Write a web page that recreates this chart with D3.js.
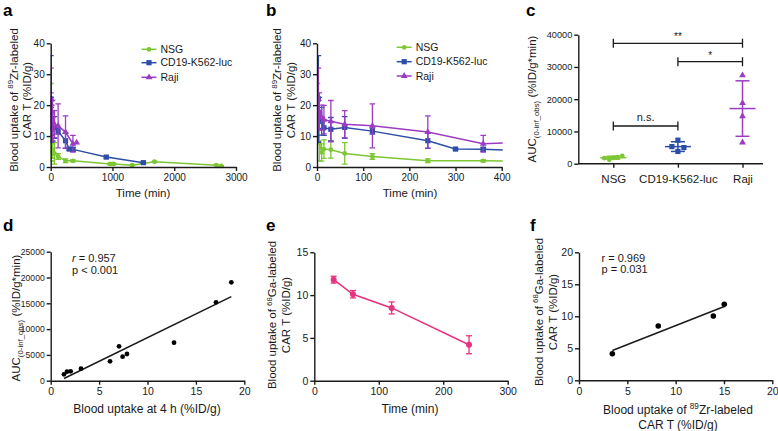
<!DOCTYPE html>
<html><head><meta charset="utf-8">
<script src="https://cdn.jsdelivr.net/npm/d3@7"></script>
<style>
body{margin:0;background:#fff}
</style></head><body>
<svg id="chart" width="778" height="431" style="display:block"></svg>
<script>
// ---------------- DATA ----------------
// Panels a & b: blood uptake of 89Zr-labeled CAR T (%ID/g) vs time (min)
const nsgTime  = [1, 3, 5, 10, 15, 30, 60, 120, 240, 360, 960, 1020, 1320, 1680, 2680, 2760];
const nsgMean  = [21, 14.5, 8, 4.7, 5.8, 5.6, 4.4, 3.4, 2.0, 2.0, 1.0, 1.0, 0.6, 1.7, 0.6, 0.35];
const nsgSD    = [6, 7, 6, 2.8, 3, 2.75, 3.5, 0.9, 0.6, 0.3, 0.2, 0.2, 0.1, 0.2, 0.1, 0.1];
const cd19Time = [3, 5, 10, 15, 30, 60, 120, 240, 300, 360, 900, 1500];
const cd19Mean = [22, 17.5, 14.8, 12.7, 12.2, 12.8, 11.6, 8.5, 5.8, 5.7, 3.2, 1.4];
const cd19SD   = [14, 5, 4.5, 2.5, 3.8, 3.5, 1.0, 2.5, 0.3, 0.6, 0.3, 0.2];
const rajiTime = [3, 5, 10, 15, 30, 60, 120, 240, 360, 420];
const rajiMean = [22, 18, 16, 15.3, 14.8, 13.8, 13.3, 11.3, 7.5, 7.9];
const rajiSD   = [10, 6, 4, 4.6, 6.7, 4.4, 7.1, 5.2, 2.7, 0];
const seriesNames = ["NSG", "CD19-K562-luc", "Raji"];
const ticksA = [0, 1000, 2000, 3000];
const ticksB = [0, 100, 200, 300, 400];
const ticksUptake = [0, 10, 20, 30, 40];

// Panel c: AUC(0-inf_obs)
const aucGroups = ["NSG", "CD19-K562-luc", "Raji"];
const aucNSG  = [1700, 1200, 1900, 2000, 2400];
const aucCD19 = [7300, 5300, 5000, 3800];
const aucRaji = [27400, 18800, 14700, 6600];
const aucMean = [1860, 5300, 17100];
const aucSD   = [450, 1500, 8600];
const ticksAUC = [0, 10000, 20000, 30000, 40000];
const sigLabels = ["**", "*", "n.s."];

// Panel d: AUC vs blood uptake at 4 h
const dUptake = [1.37, 1.68, 2.06, 3.13, 6.13, 7.06, 7.43, 7.88, 12.74, 17.08, 18.66];
const dAUC    = [1240, 1750, 1820, 2330, 3760, 6660, 4650, 5170, 7360, 15190, 19070];
const ticksDX = [0, 5, 10, 15, 20];
const ticksDY = [0, 5000, 10000, 15000, 20000, 25000];

// Panel e: 68Ga-labeled CAR T
const gaTime = [30, 60, 120, 240];
const gaMean = [11.8, 10.1, 8.5, 4.2];
const gaSD   = [0.4, 0.43, 0.7, 1.05];
const ticksEX = [0, 100, 200, 300];
const ticksEY = [0, 5, 10, 15];

// Panel f: 68Ga vs 89Zr
const fZr = [3.45, 8.2, 13.9, 15.03];
const fGa = [4.16, 8.48, 10.05, 11.87];
const ticksF = [0, 5, 10, 15, 20];

// ---------------- DRAWING ----------------
const svg = d3.select('#chart');
const FONT = '"Liberation Sans", Arial, Helvetica, sans-serif';
const INK = '#1a1a1a';
const COL = {nsg: '#7dc634', cd19: '#2d4da6', raji: '#9b3cc3', ga: '#e8317f'};

function styleAxis(g, fs) {
  g.attr('font-family', FONT).attr('font-size', fs || 10);
  g.select('.domain').attr('stroke', INK).attr('stroke-width', 1.4);
  g.selectAll('.tick line').attr('stroke', INK).attr('stroke-width', 1.4);
  g.selectAll('.tick text').attr('fill', INK);
}
function xAxis(x, y0, ticks, fs) {
  const g = svg.append('g').attr('transform', `translate(0,${y0})`)
    .call(d3.axisBottom(x).tickValues(ticks).tickSize(4).tickSizeOuter(0).tickPadding(3).tickFormat(d3.format('d')));
  styleAxis(g, fs); return g;
}
function yAxis(y, x0, ticks, fs) {
  const g = svg.append('g').attr('transform', `translate(${x0},0)`)
    .call(d3.axisLeft(y).tickValues(ticks).tickSize(4).tickSizeOuter(0).tickPadding(2).tickFormat(d3.format('d')));
  styleAxis(g, fs); return g;
}
// rich text: parts [{t, s:'sup'|'sub', i:true}]
function rich(parent, parts, size, anchor) {
  const text = parent.append('text').attr('font-family', FONT).attr('font-size', size)
    .attr('fill', INK).attr('text-anchor', anchor || 'middle');
  let cur = 0;
  parts.forEach(p => {
    const shift = p.s === 'sup' ? -size * 0.38 : p.s === 'sub' ? size * 0.28 : 0;
    const ts = text.append('tspan').text(p.t);
    if (p.s) ts.attr('font-size', size * 0.68);
    if (shift !== cur) { ts.attr('dy', shift - cur); cur = shift; }
    if (p.i) ts.attr('font-style', 'italic');
  });
  return text;
}
function textAt(x, y, parts, size, anchor, rot) {
  const g = svg.append('g').attr('transform', `translate(${x},${y})` + (rot ? ` rotate(${rot})` : ''));
  rich(g, parts, size, anchor).attr('y', size * 0.35);
  return g;
}
function letter(x, y, t) {
  svg.append('text').attr('x', x).attr('y', y).text(t).attr('font-family', FONT)
    .attr('font-weight', 'bold').attr('font-size', 17).attr('fill', '#000');
}
function errBars(g, x, y, xs, ms, sds, color, cap) {
  xs.forEach((t, i) => {
    if (!sds[i]) return;
    const cx = x(t), y1 = y(ms[i] + sds[i]), y2 = y(Math.max(0, ms[i] - sds[i]));
    g.append('line').attr('x1', cx).attr('x2', cx).attr('y1', y1).attr('y2', y2)
      .attr('stroke', color).attr('stroke-width', 1.3);
    [y1, y2].forEach(yy => g.append('line').attr('x1', cx - cap).attr('x2', cx + cap)
      .attr('y1', yy).attr('y2', yy).attr('stroke', color).attr('stroke-width', 1.3));
  });
}
function marker(g, type, cx, cy, color) {
  if (type === 'circle') g.append('circle').attr('cx', cx).attr('cy', cy).attr('r', 2.4).attr('fill', color);
  else if (type === 'square') g.append('rect').attr('x', cx - 2.6).attr('y', cy - 2.6).attr('width', 5.2).attr('height', 5.2).attr('fill', color);
  else g.append('path').attr('d', d3.symbol(d3.symbolTriangle, 20)()).attr('transform', `translate(${cx},${cy})`).attr('fill', color);
}
const seriesDefs = [
  {t: nsgTime, m: nsgMean, sd: nsgSD, c: COL.nsg, mk: 'circle'},
  {t: cd19Time, m: cd19Mean, sd: cd19SD, c: COL.cd19, mk: 'square'},
  {t: rajiTime, m: rajiMean, sd: rajiSD, c: COL.raji, mk: 'triangle'}
];
function kinetics(x, y, clipId, legX, legY) {
  svg.append('clipPath').attr('id', clipId).append('rect')
    .attr('x', x.range()[0]).attr('y', 0).attr('width', x.range()[1] - x.range()[0] + 1).attr('height', 200);
  const g = svg.append('g').attr('clip-path', `url(#${clipId})`);
  seriesDefs.forEach(s => {
    const pts = s.t.map((t, i) => [t, s.m[i]]);
    g.append('path').attr('d', d3.line().x(d => x(d[0])).y(d => y(d[1]))(pts))
      .attr('fill', 'none').attr('stroke', s.c).attr('stroke-width', 1.5);
    errBars(g, x, y, s.t, s.m, s.sd, s.c, 2.8);
    pts.forEach(d => marker(g, s.mk, x(d[0]), y(d[1]), s.c));
  });
  seriesNames.forEach((n, i) => {
    const s = seriesDefs[i], yy = legY[i];
    svg.append('line').attr('x1', legX).attr('x2', legX + 15).attr('y1', yy).attr('y2', yy)
      .attr('stroke', s.c).attr('stroke-width', 1.5);
    marker(svg, s.mk, legX + 7.5, yy, s.c);
    svg.append('text').attr('x', legX + 19).attr('y', yy + 3.7).text(n)
      .attr('font-family', FONT).attr('font-size', 10.5).attr('fill', INK);
  });
}
const zrTitle = [{t: 'Blood uptake of '}, {t: '89', s: 'sup'}, {t: 'Zr-labeled'}];
const carTitle = [{t: 'CAR T (%ID/g)'}];

// ---- Panel a ----
{
  const x = d3.scaleLinear().domain([0, 3000]).range([50.7, 236]);
  const y = d3.scaleLinear().domain([0, 40]).range([167, 43.3]);
  kinetics(x, y, 'clipA', 141.5, [49.3, 62.7, 77.3]);
  xAxis(x, 167, ticksA); yAxis(y, 50.7, ticksUptake);
  textAt(13.5, 100, zrTitle, 11.5, 'middle', -90);
  textAt(27, 100, carTitle, 11.5, 'middle', -90);
  textAt(143, 193, [{t: 'Time (min)'}], 11.5, 'middle');
  letter(3, 16, 'a');
}
// ---- Panel b ----
{
  const x = d3.scaleLinear().domain([0, 400]).range([317, 501.7]);
  const y = d3.scaleLinear().domain([0, 40]).range([167, 43.3]);
  kinetics(x, y, 'clipB', 396.7, [47.3, 61.7, 76]);
  xAxis(x, 167, ticksB); yAxis(y, 317, ticksUptake);
  textAt(277, 100, zrTitle, 11.5, 'middle', -90);
  textAt(290.5, 100, carTitle, 11.5, 'middle', -90);
  textAt(410, 193, [{t: 'Time (min)'}], 11.5, 'middle');
  letter(266, 16, 'b');
}
// ---- Panel c ----
{
  const x = d3.scalePoint().domain(aucGroups).range([613.3, 742.5]);
  const y = d3.scaleLinear().domain([0, 40000]).range([163.7, 34.7]);
  const g = svg.append('g');
  const groups = [
    {v: aucNSG, c: COL.nsg, mk: 'circle', off: [-9, -4, 0, 4, 9]},
    {v: aucCD19, c: COL.cd19, mk: 'square', off: [0, -6, 6, 0]},
    {v: aucRaji, c: COL.raji, mk: 'triangle', off: [0, 0, 0, 0]}
  ];
  groups.forEach((gr, i) => {
    const cx = x(aucGroups[i]);
    gr.v.forEach((v, j) => marker(g, gr.mk, cx + gr.off[j], y(v), gr.c));
    const m = aucMean[i], s = aucSD[i];
    g.append('line').attr('x1', cx - 13).attr('x2', cx + 13).attr('y1', y(m)).attr('y2', y(m)).attr('stroke', gr.c).attr('stroke-width', 1.5);
    g.append('line').attr('x1', cx).attr('x2', cx).attr('y1', y(m + s)).attr('y2', y(m - s)).attr('stroke', gr.c).attr('stroke-width', 1.5);
    [m + s, m - s].forEach(v => g.append('line').attr('x1', cx - 7).attr('x2', cx + 7).attr('y1', y(v)).attr('y2', y(v)).attr('stroke', gr.c).attr('stroke-width', 1.5));
  });
  yAxis(y, 578.3, ticksAUC, 9.2);
  const ax = svg.append('g').attr('transform', 'translate(0,163.7)')
    .call(d3.axisBottom(x).tickSize(4).tickSizeOuter(0).tickPadding(7));
  styleAxis(ax);
  ax.select('.domain').attr('d', 'M578.3,0H763');
  ax.selectAll('.tick text').attr('font-size', 11.5);
  // significance brackets
  const sig = [[aucGroups[0], aucGroups[2], 43.3], [aucGroups[1], aucGroups[2], 61.7], [aucGroups[0], aucGroups[1], 126]];
  sig.forEach((s, i) => {
    const x1 = x(s[0]), x2 = x(s[1]), yy = s[2];
    svg.append('path').attr('d', `M${x1},${yy - 4.5}V${yy + 4.5}M${x1},${yy}H${x2}M${x2},${yy - 4.5}V${yy + 4.5}`)
      .attr('stroke', INK).attr('stroke-width', 1.3).attr('fill', 'none');
    svg.append('text').attr('x', (x1 + x2) / 2).attr('y', yy - (i === 2 ? 5 : 3)).text(sigLabels[i])
      .attr('text-anchor', 'middle').attr('font-family', FONT).attr('font-size', i === 2 ? 11 : 10).attr('fill', INK);
  });
  textAt(532, 99, [{t: 'AUC'}, {t: '(0-inf_obs)', s: 'sub'}, {t: ' (%ID/g*min)'}], 11.5, 'middle', -90);
  letter(526, 16, 'c');
}
// ---- Panel d ----
function regression(xs, ys) {
  const mx = d3.mean(xs), my = d3.mean(ys);
  const b = d3.sum(xs, (v, i) => (v - mx) * (ys[i] - my)) / d3.sum(xs, v => (v - mx) ** 2);
  return {b, a: my - b * mx};
}
{
  const x = d3.scaleLinear().domain([0, 20]).range([50.7, 244.3]);
  const y = d3.scaleLinear().domain([0, 25000]).range([380.7, 251.7]);
  const r = regression(dUptake, dAUC);
  const [x0, x1] = d3.extent(dUptake);
  svg.append('line').attr('x1', x(x0)).attr('x2', x(x1)).attr('y1', y(r.a + r.b * x0)).attr('y2', y(r.a + r.b * x1))
    .attr('stroke', INK).attr('stroke-width', 1.5);
  dUptake.forEach((v, i) => marker(svg, 'circle', x(v), y(dAUC[i]), '#000'));
  xAxis(x, 380.7, ticksDX, 10.5); yAxis(y, 50.7, ticksDY, 8.6);
  textAt(72, 258.3, [{t: 'r', i: true}, {t: ' = 0.957'}], 11, 'start');
  textAt(72, 270.5, [{t: 'p < 0.001'}], 11, 'start');
  textAt(15.5, 318, [{t: 'AUC'}, {t: '(0-inf_obs)', s: 'sub'}, {t: ' (%ID/g*min)'}], 11.5, 'middle', -90);
  textAt(147, 408.3, [{t: 'Blood uptake at 4 h (%ID/g)'}], 12, 'middle');
  letter(3, 231, 'd');
}
// ---- Panel e ----
{
  const x = d3.scaleLinear().domain([0, 300]).range([314.3, 507.7]);
  const y = d3.scaleLinear().domain([0, 15]).range([380.7, 252.3]);
  const g = svg.append('g');
  g.append('path').attr('d', d3.line().x((d, i) => x(gaTime[i])).y(d => y(d))(gaMean))
    .attr('fill', 'none').attr('stroke', COL.ga).attr('stroke-width', 1.5);
  errBars(g, x, y, gaTime, gaMean, gaSD, COL.ga, 3);
  gaTime.forEach((t, i) => g.append('circle').attr('cx', x(t)).attr('cy', y(gaMean[i])).attr('r', 3).attr('fill', COL.ga));
  xAxis(x, 380.7, ticksEX, 10.5); yAxis(y, 314.3, ticksEY, 10.5);
  textAt(272, 315, [{t: 'Blood uptake of '}, {t: '68', s: 'sup'}, {t: 'Ga-labeled'}], 11.5, 'middle', -90);
  textAt(286, 315, carTitle, 11.5, 'middle', -90);
  textAt(410, 408.3, [{t: 'Time (min)'}], 12, 'middle');
  letter(266, 231, 'e');
}
// ---- Panel f ----
{
  const x = d3.scaleLinear().domain([0, 20]).range([579, 772.3]);
  const y = d3.scaleLinear().domain([0, 20]).range([380.3, 252.3]);
  const r = regression(fZr, fGa);
  const [x0, x1] = d3.extent(fZr);
  svg.append('line').attr('x1', x(x0)).attr('x2', x(x1)).attr('y1', y(r.a + r.b * x0)).attr('y2', y(r.a + r.b * x1))
    .attr('stroke', INK).attr('stroke-width', 1.5);
  fZr.forEach((v, i) => svg.append('circle').attr('cx', x(v)).attr('cy', y(fGa[i])).attr('r', 2.8).attr('fill', '#000'));
  xAxis(x, 380.3, ticksF, 10.5); yAxis(y, 579, ticksF, 10.5);
  textAt(601.5, 258.3, [{t: 'r = 0.969'}], 11, 'start');
  textAt(601.5, 269.5, [{t: 'p = 0.031'}], 11, 'start');
  textAt(538.5, 312, [{t: 'Blood uptake of '}, {t: '68', s: 'sup'}, {t: 'Ga-labeled'}], 11.5, 'middle', -90);
  textAt(553, 312, carTitle, 11.5, 'middle', -90);
  textAt(678, 409.3, zrTitle, 12, 'middle');
  textAt(678, 424.3, [{t: 'CAR T  (%ID/g)'}], 12, 'middle');
  letter(530, 231, 'f');
}
</script>
</body></html>
